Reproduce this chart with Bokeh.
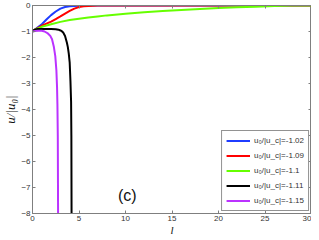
from bokeh.plotting import figure
from bokeh.models import FixedTicker, LinearAxis, Legend, LegendItem, Label
from bokeh.embed import file_html
from bokeh.resources import INLINE

# ---- data ----
l_blue = [0, 0.25, 0.5, 1.0, 1.5, 2.0, 2.5, 3.0, 3.5, 4.0, 4.5, 5.0, 5.5, 6.0, 8.0, 30]
u_blue = [-1, -0.93, -0.86, -0.72, -0.54, -0.37, -0.23, -0.12, -0.06, -0.03, -0.015, -0.007,
          -0.003, 0, 0, 0]

l_red = [0, 0.25, 0.5, 1.0, 1.5, 2.0, 2.5, 3.0, 3.5, 4.0, 4.5, 5.0, 5.5, 6.0, 7.0, 8.0, 10, 30]
u_red = [-1, -0.94, -0.88, -0.78, -0.70, -0.62, -0.52, -0.42, -0.31, -0.21, -0.12, -0.06, -0.03,
         -0.015, -0.004, 0, 0, 0]

l_green = [0, 0.25, 0.5, 1, 1.5, 2, 3, 4, 5, 6, 7, 8, 10, 12, 14, 16, 18, 20, 22, 24, 26, 27, 28, 30]
u_green = [-1, -0.94, -0.89, -0.82, -0.77, -0.72, -0.63, -0.56, -0.51, -0.46, -0.42, -0.38, -0.32,
           -0.26, -0.21, -0.17, -0.13, -0.10, -0.07, -0.045, -0.02, -0.005, 0, 0]

l_black = [0, 0.15, 0.3, 0.6, 1.0, 1.5, 2.0, 2.5, 2.8, 3.0, 3.15, 3.3, 3.5, 3.7, 3.8, 3.9, 4.0,
           4.08, 4.15, 4.18, 4.2]
u_black = [-1, -0.95, -0.92, -0.9, -0.9, -0.9, -0.9, -0.91, -0.93, -0.96, -0.99, -1.04, -1.17,
           -1.43, -1.6, -1.85, -2.2, -2.9, -3.7, -5.0, -8.0]

l_purple = [0, 0.3, 0.6, 1.0, 1.3, 1.6, 1.9, 2.1, 2.3, 2.45, 2.57, 2.64, 2.68, 2.72, 2.75]
u_purple = [-1, -0.98, -0.97, -0.97, -1.0, -1.06, -1.16, -1.3, -1.6, -1.95, -2.5, -3.15, -3.8,
            -5.0, -8.0]

ratios = ["-1.02", "-1.09", "-1.1", "-1.11", "-1.15"]
x_ticks = [0, 5, 10, 15, 20, 25, 30]
y_ticks = [0, -1, -2, -3, -4, -5, -6, -7, -8]
panel_tag = "(c)"
tag_x, tag_y = 10.2, -7.3

series = [
    (l_blue, u_blue, "#1f3cff"),
    (l_red, u_red, "#ff0000"),
    (l_green, u_green, "#66ff00"),
    (l_black, u_black, "#000000"),
    (l_purple, u_purple, "#bb33ff"),
]

AX = "#7f7f7f"
TXT = "#333333"

p = figure(width=311, height=238, x_range=(0, 30), y_range=(-8, 0),
           output_backend="svg", toolbar_location=None,
           min_border_left=10, min_border_right=0, min_border_top=5, min_border_bottom=10)
p.grid.visible = False
p.outline_line_color = AX
p.background_fill_color = "white"
p.border_fill_color = "white"

for ax, ticks in ((p.xaxis[0], x_ticks), (p.yaxis[0], y_ticks)):
    ax.ticker = FixedTicker(ticks=ticks)
    ax.major_tick_in = 3
    ax.major_tick_out = 0
    ax.minor_tick_line_color = None
    ax.axis_line_color = AX
    ax.major_tick_line_color = AX
    ax.major_label_text_font = "Liberation Sans"
    ax.major_label_text_font_size = "8px"
    ax.major_label_text_color = TXT
    ax.major_label_standoff = 3
    ax.axis_label_text_font = "Liberation Serif"
    ax.axis_label_text_font_style = "italic"
    ax.axis_label_text_color = "#111111"

p.xaxis.axis_label = "l"
p.xaxis.axis_label_text_font_size = "11px"
p.xaxis.axis_label_standoff = 0
p.xaxis.major_label_standoff = 2
p.yaxis.axis_label = "u/|u₀|"
p.yaxis.axis_label_text_font_size = "13px"
p.yaxis.axis_label_standoff = 0
p.yaxis.major_label_standoff = 2

for loc, ticks in (("above", x_ticks), ("right", y_ticks)):
    a = LinearAxis(ticker=FixedTicker(ticks=ticks))
    a.major_tick_in = 3
    a.major_tick_out = 0
    a.minor_tick_line_color = None
    a.axis_line_color = AX
    a.major_tick_line_color = AX
    a.major_label_overrides = {t: "" for t in ticks}
    a.major_label_text_color = None
    a.major_label_text_font_size = "1px"
    a.major_label_standoff = 0
    p.add_layout(a, loc)

items = []
for (lx, uy, col), r in zip(series, ratios):
    g = p.line(lx, uy, line_color=col, line_width=2)
    items.append(LegendItem(label="u₀/|u_c|=" + r, renderers=[g]))

legend = Legend(items=items, location="bottom_right")
legend.label_text_font = "Liberation Sans"
legend.label_text_font_size = "8px"
legend.label_text_color = TXT
legend.glyph_width = 24
legend.glyph_height = 11
legend.label_height = 11
legend.label_standoff = 4
legend.spacing = 4
legend.padding = 4
legend.margin = 2
legend.border_line_color = "#262626"
legend.border_line_width = 1
legend.background_fill_alpha = 1
p.add_layout(legend)

p.add_layout(Label(x=tag_x, y=tag_y, text=panel_tag, text_align="center",
                   text_baseline="middle", text_font="Liberation Sans",
                   text_font_size="16px", text_color="#111111"))

open("out.html", "w").write(file_html(p, INLINE))
